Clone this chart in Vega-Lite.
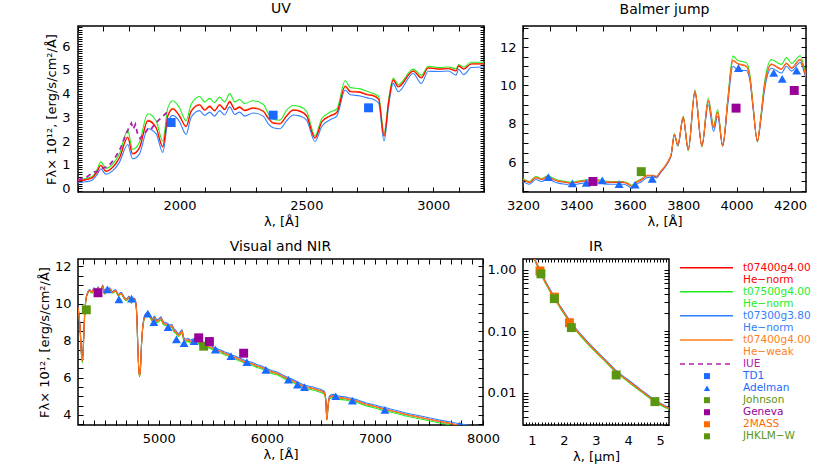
{
"$schema": "https://vega.github.io/schema/vega-lite/v6.json",
"padding": {"left": 37, "top": 1, "right": 0, "bottom": 0},
"config": {
 "font": "DejaVu Sans",
 "view": {"stroke": "#000", "strokeWidth": 1.5},
 "axis": {"domain": false, "grid": false, "tickColor": "#000000", "tickSize": 5, "offset": -5, "tickWidth": 1, "labelFont": "DejaVu Sans", "labelFontSize": 13, "labelColor": "#000", "labelPadding": 7, "labelFlush": false, "labelOverlap": false, "titleFont": "DejaVu Sans", "titleFontSize": 13, "titleFontWeight": "normal", "titleColor": "#000", "titlePadding": 3},
 "title": {"font": "DejaVu Sans", "fontSize": 14, "fontWeight": "normal", "color": "#000", "offset": 5},
 "line": {"strokeWidth": 1.1, "interpolate": "monotone"}
},
"datasets": {
 "uv": [
  {"w":1600,"r":0.31,"g":0.36,"b":0.25,"o":0.33},{"w":1630,"r":0.36,"g":0.42,"b":0.28,"o":0.38},{"w":1657,"r":0.45,"g":0.52,"b":0.36,"o":0.47},{"w":1675,"r":0.70,"g":0.80,"b":0.58,"o":0.72},{"w":1690,"r":0.97,"g":1.12,"b":0.82,"o":0.99},{"w":1710,"r":0.72,"g":0.85,"b":0.60,"o":0.74},{"w":1736,"r":0.88,"g":1.02,"b":0.74,"o":0.90},{"w":1763,"r":1.27,"g":1.45,"b":1.10,"o":1.30},{"w":1796,"r":2.15,"g":2.45,"b":1.85,"o":2.18},{"w":1815,"r":1.45,"g":1.65,"b":1.25,"o":1.48},{"w":1842,"r":1.70,"g":1.95,"b":1.45,"o":1.73},{"w":1875,"r":2.85,"g":3.15,"b":2.52,"o":2.88},{"w":1908,"r":2.55,"g":2.85,"b":2.30,"o":2.58},{"w":1934,"r":1.75,"g":2.00,"b":1.52,"o":1.78},{"w":1954,"r":3.05,"g":3.40,"b":2.80,"o":3.08},{"w":1974,"r":3.35,"g":3.70,"b":3.08,"o":3.38},{"w":2000,"r":3.05,"g":3.40,"b":2.82,"o":3.08},{"w":2026,"r":2.60,"g":2.85,"b":2.28,"o":2.63},{"w":2046,"r":3.25,"g":3.55,"b":3.00,"o":3.28},{"w":2079,"r":3.52,"g":3.88,"b":3.28,"o":3.55},{"w":2099,"r":3.30,"g":3.65,"b":3.08,"o":3.33},{"w":2119,"r":3.45,"g":3.80,"b":3.22,"o":3.48},{"w":2138,"r":3.27,"g":3.62,"b":3.05,"o":3.30},{"w":2158,"r":3.52,"g":3.85,"b":3.28,"o":3.55},{"w":2178,"r":3.32,"g":3.65,"b":3.10,"o":3.35},{"w":2198,"r":3.65,"g":4.00,"b":3.44,"o":3.68},{"w":2218,"r":3.32,"g":3.65,"b":3.12,"o":3.35},{"w":2237,"r":3.42,"g":3.75,"b":3.22,"o":3.45},{"w":2257,"r":3.28,"g":3.58,"b":3.05,"o":3.31},{"w":2290,"r":3.38,"g":3.70,"b":3.18,"o":3.41},{"w":2330,"r":3.25,"g":3.55,"b":3.05,"o":3.28},{"w":2350,"r":2.95,"g":3.15,"b":2.72,"o":2.98},{"w":2369,"r":2.75,"g":2.92,"b":2.56,"o":2.78},{"w":2396,"r":2.72,"g":2.88,"b":2.52,"o":2.75},{"w":2422,"r":3.05,"g":3.30,"b":2.85,"o":3.08},{"w":2448,"r":3.30,"g":3.50,"b":3.10,"o":3.33},{"w":2475,"r":3.25,"g":3.45,"b":3.05,"o":3.28},{"w":2501,"r":3.05,"g":3.25,"b":2.88,"o":3.08},{"w":2534,"r":2.12,"g":2.22,"b":1.98,"o":2.15},{"w":2561,"r":2.80,"g":2.95,"b":2.62,"o":2.83},{"w":2594,"r":3.05,"g":3.22,"b":2.90,"o":3.08},{"w":2620,"r":3.20,"g":3.35,"b":3.05,"o":3.23},{"w":2653,"r":4.30,"g":4.55,"b":4.15,"o":4.33},{"w":2673,"r":4.08,"g":4.25,"b":3.95,"o":4.11},{"w":2712,"r":4.05,"g":4.20,"b":3.90,"o":4.08},{"w":2739,"r":3.95,"g":4.10,"b":3.82,"o":3.98},{"w":2765,"r":3.90,"g":4.00,"b":3.75,"o":3.93},{"w":2785,"r":3.75,"g":3.88,"b":3.60,"o":3.78},{"w":2806,"r":2.20,"g":2.35,"b":2.00,"o":2.23},{"w":2825,"r":3.70,"g":3.82,"b":3.55,"o":3.73},{"w":2842,"r":4.57,"g":4.66,"b":4.43,"o":4.60},{"w":2862,"r":4.28,"g":4.38,"b":4.08,"o":4.31},{"w":2921,"r":4.94,"g":5.03,"b":4.85,"o":4.97},{"w":2953,"r":4.66,"g":4.78,"b":4.43,"o":4.69},{"w":2980,"r":5.08,"g":5.15,"b":4.94,"o":5.10},{"w":3020,"r":5.03,"g":5.10,"b":4.93,"o":5.05},{"w":3060,"r":5.05,"g":5.12,"b":4.95,"o":5.07},{"w":3090,"r":4.95,"g":5.05,"b":4.78,"o":4.97},{"w":3100,"r":5.17,"g":5.22,"b":5.02,"o":5.18},{"w":3120,"r":5.03,"g":5.12,"b":4.80,"o":5.05},{"w":3150,"r":5.25,"g":5.32,"b":5.10,"o":5.26},{"w":3200,"r":5.25,"g":5.32,"b":5.12,"o":5.26}
 ],
 "iue": [
  {"w":1600,"f":0.35},{"w":1615,"f":0.42},{"w":1630,"f":0.45},{"w":1650,"f":0.6},{"w":1665,"f":0.7},{"w":1680,"f":0.72},{"w":1695,"f":0.85},{"w":1710,"f":0.9},{"w":1725,"f":1.0},{"w":1740,"f":1.2},{"w":1755,"f":1.45},{"w":1770,"f":1.75},{"w":1780,"f":2.05},{"w":1790,"f":2.3},{"w":1800,"f":2.55},{"w":1810,"f":2.75},{"w":1818,"f":2.5},{"w":1826,"f":2.7},{"w":1835,"f":2.3},{"w":1845,"f":2.1},{"w":1855,"f":2.25},{"w":1865,"f":2.35},{"w":1875,"f":2.5},{"w":1885,"f":2.45},{"w":1895,"f":2.6},{"w":1905,"f":2.75},{"w":1915,"f":2.85},{"w":1925,"f":2.95},{"w":1935,"f":3.05},{"w":1945,"f":3.15},{"w":1958,"f":3.3}
 ],
 "uvpts": [
  {"w":1967,"f":2.78,"src":"TD1"},{"w":2369,"f":3.09,"src":"TD1"},{"w":2745,"f":3.4,"src":"TD1"}
 ],
 "bal": [
  {"w":3200,"r":5.10,"g":5.15,"b":5.00,"o":5.12},{"w":3223,"r":4.95,"g":5.00,"b":4.85,"o":4.97},{"w":3248,"r":5.20,"g":5.25,"b":5.10,"o":5.22},{"w":3270,"r":5.10,"g":5.15,"b":5.00,"o":5.12},{"w":3292,"r":5.25,"g":5.30,"b":5.15,"o":5.27},{"w":3315,"r":5.10,"g":5.15,"b":5.00,"o":5.12},{"w":3336,"r":5.00,"g":5.05,"b":4.90,"o":5.02},{"w":3361,"r":4.95,"g":5.00,"b":4.85,"o":4.97},{"w":3380,"r":4.90,"g":4.95,"b":4.80,"o":4.92},{"w":3399,"r":4.95,"g":5.00,"b":4.85,"o":4.97},{"w":3420,"r":5.00,"g":5.05,"b":4.90,"o":5.02},{"w":3455,"r":5.05,"g":5.10,"b":4.95,"o":5.07},{"w":3475,"r":5.05,"g":5.10,"b":4.95,"o":5.07},{"w":3495,"r":5.00,"g":5.05,"b":4.90,"o":5.02},{"w":3532,"r":4.95,"g":5.00,"b":4.85,"o":4.97},{"w":3576,"r":4.95,"g":5.00,"b":4.85,"o":4.97},{"w":3595,"r":4.85,"g":4.90,"b":4.75,"o":4.87},{"w":3607,"r":4.75,"g":4.80,"b":4.65,"o":4.77},{"w":3626,"r":4.95,"g":5.00,"b":4.85,"o":4.97},{"w":3645,"r":5.10,"g":5.15,"b":5.00,"o":5.12},{"w":3664,"r":5.30,"g":5.30,"b":5.20,"o":5.32},{"w":3689,"r":5.30,"g":5.30,"b":5.22,"o":5.32},{"w":3700,"r":5.25,"g":5.25,"b":5.18,"o":5.27},{"w":3715,"r":5.50,"g":5.50,"b":5.45,"o":5.52},{"w":3730,"r":5.75,"g":5.75,"b":5.70,"o":5.77},{"w":3746,"r":6.10,"g":6.10,"b":6.05,"o":6.12},{"w":3755,"r":6.40,"g":6.40,"b":6.35,"o":6.42},{"w":3767,"r":7.45,"g":7.50,"b":7.40,"o":7.46},{"w":3780,"r":6.90,"g":6.85,"b":6.85,"o":6.90},{"w":3800,"r":8.35,"g":8.40,"b":8.28,"o":8.36},{"w":3819,"r":6.65,"g":6.60,"b":6.65,"o":6.65},{"w":3844,"r":9.70,"g":9.78,"b":9.60,"o":9.72},{"w":3870,"r":6.85,"g":6.80,"b":6.85,"o":6.85},{"w":3894,"r":9.20,"g":9.35,"b":9.00,"o":9.22},{"w":3914,"r":7.80,"g":7.90,"b":7.60,"o":7.82},{"w":3929,"r":8.60,"g":8.75,"b":8.40,"o":8.62},{"w":3948,"r":6.85,"g":6.85,"b":6.85,"o":6.85},{"w":3967,"r":9.20,"g":9.30,"b":9.00,"o":9.22},{"w":3986,"r":11.30,"g":11.53,"b":11.00,"o":11.32},{"w":4005,"r":11.13,"g":11.30,"b":10.80,"o":11.15},{"w":4036,"r":11.00,"g":11.20,"b":10.78,"o":11.02},{"w":4050,"r":10.40,"g":10.55,"b":10.25,"o":10.42},{"w":4061,"r":9.00,"g":9.10,"b":8.90,"o":9.02},{"w":4078,"r":7.10,"g":7.05,"b":7.10,"o":7.10},{"w":4090,"r":8.20,"g":8.30,"b":8.10,"o":8.22},{"w":4105,"r":10.00,"g":10.20,"b":9.80,"o":10.02},{"w":4131,"r":11.10,"g":11.35,"b":10.90,"o":11.12},{"w":4168,"r":10.85,"g":11.10,"b":10.65,"o":10.87},{"w":4187,"r":11.15,"g":11.45,"b":11.00,"o":11.17},{"w":4206,"r":10.90,"g":11.15,"b":10.75,"o":10.92},{"w":4238,"r":11.35,"g":11.55,"b":11.20,"o":11.37},{"w":4255,"r":10.70,"g":10.85,"b":10.60,"o":10.72},{"w":4270,"r":9.90,"g":9.95,"b":9.85,"o":9.92}
 ],
 "balpts": [
  {"w":3295,"f":5.22,"src":"Adelman"},{"w":3385,"f":4.9,"src":"Adelman"},{"w":3437,"f":4.92,"src":"Adelman"},{"w":3497,"f":5.06,"src":"Adelman"},{"w":3560,"f":4.86,"src":"Adelman"},{"w":3620,"f":4.84,"src":"Adelman"},{"w":3684,"f":5.13,"src":"Adelman"},{"w":4007,"f":10.9,"src":"Adelman"},{"w":4139,"f":10.66,"src":"Adelman"},{"w":4171,"f":10.35,"src":"Adelman"},{"w":4225,"f":10.78,"src":"Adelman"},
  {"w":3462,"f":5.0,"src":"Geneva"},{"w":3998,"f":8.82,"src":"Geneva"},{"w":4216,"f":9.74,"src":"Geneva"},
  {"w":3643,"f":5.51,"src":"Johnson"}
 ],
 "vis": [
  {"w":4252,"r":9.80,"g":9.75,"b":9.85,"o":9.80},{"w":4270,"r":8.80,"g":8.75,"b":8.85,"o":8.80},{"w":4285,"r":7.20,"g":7.10,"b":7.30,"o":7.20},{"w":4293,"r":6.90,"g":6.80,"b":7.00,"o":6.90},{"w":4300,"r":7.50,"g":7.40,"b":7.60,"o":7.50},{"w":4312,"r":9.20,"g":9.15,"b":9.25,"o":9.20},{"w":4325,"r":10.20,"g":10.15,"b":10.25,"o":10.20},{"w":4340,"r":10.55,"g":10.50,"b":10.60,"o":10.55},{"w":4360,"r":10.70,"g":10.65,"b":10.75,"o":10.70},{"w":4380,"r":10.60,"g":10.55,"b":10.65,"o":10.60},{"w":4400,"r":10.80,"g":10.75,"b":10.85,"o":10.80},{"w":4420,"r":10.70,"g":10.65,"b":10.75,"o":10.70},{"w":4440,"r":10.85,"g":10.80,"b":10.90,"o":10.85},{"w":4460,"r":10.60,"g":10.55,"b":10.65,"o":10.60},{"w":4480,"r":10.95,"g":10.90,"b":11.00,"o":10.95},{"w":4500,"r":10.55,"g":10.50,"b":10.60,"o":10.55},{"w":4520,"r":10.70,"g":10.65,"b":10.75,"o":10.70},{"w":4545,"r":10.80,"g":10.75,"b":10.85,"o":10.80},{"w":4570,"r":10.60,"g":10.55,"b":10.65,"o":10.60},{"w":4600,"r":10.70,"g":10.65,"b":10.75,"o":10.70},{"w":4625,"r":10.45,"g":10.40,"b":10.50,"o":10.45},{"w":4650,"r":10.55,"g":10.50,"b":10.60,"o":10.55},{"w":4680,"r":10.30,"g":10.25,"b":10.35,"o":10.30},{"w":4700,"r":10.20,"g":10.15,"b":10.25,"o":10.20},{"w":4725,"r":10.35,"g":10.30,"b":10.40,"o":10.35},{"w":4745,"r":10.05,"g":10.00,"b":10.10,"o":10.05},{"w":4760,"r":10.25,"g":10.20,"b":10.30,"o":10.25},{"w":4780,"r":10.20,"g":10.15,"b":10.25,"o":10.20},{"w":4795,"r":9.50,"g":9.45,"b":9.55,"o":9.50},{"w":4805,"r":7.80,"g":7.75,"b":7.85,"o":7.80},{"w":4815,"r":6.40,"g":6.35,"b":6.45,"o":6.40},{"w":4822,"r":6.10,"g":6.05,"b":6.15,"o":6.10},{"w":4830,"r":6.50,"g":6.45,"b":6.55,"o":6.50},{"w":4840,"r":7.80,"g":7.75,"b":7.85,"o":7.80},{"w":4855,"r":8.90,"g":8.85,"b":8.95,"o":8.90},{"w":4875,"r":9.35,"g":9.28,"b":9.43,"o":9.35},{"w":4900,"r":9.45,"g":9.38,"b":9.53,"o":9.45},{"w":4920,"r":9.30,"g":9.22,"b":9.38,"o":9.30},{"w":4940,"r":9.10,"g":9.02,"b":9.18,"o":9.10},{"w":4960,"r":9.25,"g":9.17,"b":9.33,"o":9.25},{"w":4980,"r":9.05,"g":8.97,"b":9.13,"o":9.05},{"w":5000,"r":9.10,"g":9.02,"b":9.18,"o":9.10},{"w":5020,"r":9.20,"g":9.12,"b":9.28,"o":9.20},{"w":5040,"r":8.95,"g":8.87,"b":9.03,"o":8.95},{"w":5060,"r":8.90,"g":8.82,"b":8.98,"o":8.90},{"w":5080,"r":8.85,"g":8.77,"b":8.93,"o":8.85},{"w":5100,"r":8.75,"g":8.67,"b":8.83,"o":8.75},{"w":5120,"r":8.80,"g":8.72,"b":8.88,"o":8.80},{"w":5140,"r":8.55,"g":8.47,"b":8.63,"o":8.55},{"w":5160,"r":8.45,"g":8.37,"b":8.53,"o":8.45},{"w":5180,"r":8.30,"g":8.22,"b":8.38,"o":8.30},{"w":5200,"r":8.40,"g":8.32,"b":8.48,"o":8.40},{"w":5215,"r":8.50,"g":8.42,"b":8.58,"o":8.50},{"w":5230,"r":8.10,"g":8.02,"b":8.18,"o":8.10},{"w":5250,"r":8.00,"g":7.92,"b":8.08,"o":8.00},{"w":5270,"r":8.05,"g":7.97,"b":8.13,"o":8.05},{"w":5290,"r":7.95,"g":7.87,"b":8.03,"o":7.95},{"w":5310,"r":8.00,"g":7.92,"b":8.08,"o":8.00},{"w":5330,"r":7.95,"g":7.87,"b":8.03,"o":7.95},{"w":5350,"r":8.05,"g":7.97,"b":8.13,"o":8.05},{"w":5370,"r":7.90,"g":7.82,"b":7.98,"o":7.90},{"w":5400,"r":7.85,"g":7.77,"b":7.93,"o":7.85},{"w":5430,"r":7.80,"g":7.72,"b":7.88,"o":7.80},{"w":5460,"r":7.70,"g":7.62,"b":7.78,"o":7.70},{"w":5490,"r":7.62,"g":7.54,"b":7.70,"o":7.62},{"w":5520,"r":7.55,"g":7.47,"b":7.63,"o":7.55},{"w":5550,"r":7.45,"g":7.37,"b":7.53,"o":7.45},{"w":5580,"r":7.40,"g":7.32,"b":7.48,"o":7.40},{"w":5610,"r":7.30,"g":7.22,"b":7.38,"o":7.30},{"w":5640,"r":7.25,"g":7.17,"b":7.33,"o":7.25},{"w":5670,"r":7.15,"g":7.07,"b":7.23,"o":7.15},{"w":5700,"r":7.10,"g":7.02,"b":7.18,"o":7.10},{"w":5740,"r":7.00,"g":6.92,"b":7.08,"o":7.00},{"w":5780,"r":6.90,"g":6.82,"b":6.98,"o":6.90},{"w":5820,"r":6.80,"g":6.72,"b":6.88,"o":6.80},{"w":5860,"r":6.75,"g":6.67,"b":6.83,"o":6.75},{"w":5900,"r":6.65,"g":6.57,"b":6.73,"o":6.65},{"w":5950,"r":6.55,"g":6.47,"b":6.63,"o":6.55},{"w":6000,"r":6.42,"g":6.34,"b":6.50,"o":6.42},{"w":6050,"r":6.30,"g":6.22,"b":6.38,"o":6.30},{"w":6100,"r":6.22,"g":6.14,"b":6.30,"o":6.22},{"w":6150,"r":6.05,"g":5.97,"b":6.13,"o":6.05},{"w":6200,"r":5.92,"g":5.84,"b":6.00,"o":5.92},{"w":6250,"r":5.80,"g":5.72,"b":5.88,"o":5.80},{"w":6300,"r":5.65,"g":5.57,"b":5.73,"o":5.65},{"w":6350,"r":5.52,"g":5.44,"b":5.60,"o":5.52},{"w":6400,"r":5.45,"g":5.37,"b":5.53,"o":5.45},{"w":6450,"r":5.38,"g":5.30,"b":5.46,"o":5.38},{"w":6500,"r":5.28,"g":5.20,"b":5.36,"o":5.28},{"w":6530,"r":5.20,"g":5.12,"b":5.28,"o":5.20},{"w":6545,"r":4.80,"g":4.72,"b":4.88,"o":4.80},{"w":6555,"r":3.75,"g":3.70,"b":3.80,"o":3.75},{"w":6565,"r":4.40,"g":4.32,"b":4.48,"o":4.40},{"w":6580,"r":4.95,"g":4.87,"b":5.03,"o":4.95},{"w":6620,"r":5.02,"g":4.94,"b":5.10,"o":5.02},{"w":6650,"r":4.95,"g":4.87,"b":5.03,"o":4.95},{"w":6700,"r":4.90,"g":4.82,"b":4.98,"o":4.90},{"w":6750,"r":4.85,"g":4.77,"b":4.93,"o":4.85},{"w":6800,"r":4.78,"g":4.70,"b":4.86,"o":4.78},{"w":6850,"r":4.70,"g":4.62,"b":4.78,"o":4.70},{"w":6900,"r":4.60,"g":4.52,"b":4.68,"o":4.60},{"w":6950,"r":4.52,"g":4.44,"b":4.60,"o":4.52},{"w":7000,"r":4.45,"g":4.37,"b":4.53,"o":4.45},{"w":7050,"r":4.36,"g":4.28,"b":4.44,"o":4.36},{"w":7100,"r":4.30,"g":4.22,"b":4.38,"o":4.30},{"w":7150,"r":4.22,"g":4.14,"b":4.30,"o":4.22},{"w":7200,"r":4.15,"g":4.07,"b":4.23,"o":4.15},{"w":7300,"r":4.00,"g":3.92,"b":4.08,"o":4.00},{"w":7400,"r":3.88,"g":3.80,"b":3.96,"o":3.88},{"w":7500,"r":3.76,"g":3.68,"b":3.84,"o":3.76},{"w":7600,"r":3.64,"g":3.56,"b":3.72,"o":3.64},{"w":7700,"r":3.53,"g":3.45,"b":3.61,"o":3.53},{"w":7800,"r":3.42,"g":3.34,"b":3.50,"o":3.42},{"w":7900,"r":3.32,"g":3.24,"b":3.40,"o":3.32},{"w":8000,"r":3.22,"g":3.14,"b":3.30,"o":3.22}
 ],
 "vispts": [
  {"w":4523,"f":10.76,"src":"Adelman"},{"w":4631,"f":10.22,"src":"Adelman"},{"w":4748,"f":10.26,"src":"Adelman"},{"w":4898,"f":9.45,"src":"Adelman"},{"w":4954,"f":9.0,"src":"Adelman"},{"w":5086,"f":8.73,"src":"Adelman"},{"w":5163,"f":8.06,"src":"Adelman"},{"w":5234,"f":7.86,"src":"Adelman"},{"w":5326,"f":7.97,"src":"Adelman"},{"w":5523,"f":7.52,"src":"Adelman"},{"w":5668,"f":7.16,"src":"Adelman"},{"w":5815,"f":6.84,"src":"Adelman"},{"w":5991,"f":6.42,"src":"Adelman"},{"w":6200,"f":5.9,"src":"Adelman"},{"w":6283,"f":5.63,"src":"Adelman"},{"w":6348,"f":5.49,"src":"Adelman"},{"w":6637,"f":5.0,"src":"Adelman"},{"w":6791,"f":4.77,"src":"Adelman"},{"w":7092,"f":4.27,"src":"Adelman"},{"w":7785,"f":3.42,"src":"Adelman"},
  {"w":4329,"f":9.66,"src":"Johnson"},{"w":5415,"f":7.7,"src":"Johnson"},
  {"w":4437,"f":10.58,"src":"Geneva"},{"w":5369,"f":8.15,"src":"Geneva"},{"w":5468,"f":7.95,"src":"Geneva"},{"w":5785,"f":7.32,"src":"Geneva"}
 ],
 "ir": [
  {"w":1.0,"r":2.00,"g":1.92,"b":2.08,"o":2.00},{"w":1.1,"r":1.42,"g":1.36,"b":1.48,"o":1.42},{"w":1.2,"r":1.10,"g":1.05,"b":1.14,"o":1.10},{"w":1.3,"r":0.84,"g":0.81,"b":0.87,"o":0.84},{"w":1.4,"r":0.66,"g":0.63,"b":0.69,"o":0.66},{"w":1.5,"r":0.53,"g":0.51,"b":0.55,"o":0.53},{"w":1.6,"r":0.43,"g":0.41,"b":0.45,"o":0.43},{"w":1.7,"r":0.355,"g":0.34,"b":0.37,"o":0.355},{"w":1.8,"r":0.29,"g":0.28,"b":0.30,"o":0.29},{"w":1.9,"r":0.24,"g":0.23,"b":0.25,"o":0.24},{"w":2.0,"r":0.20,"g":0.192,"b":0.208,"o":0.20},{"w":2.2,"r":0.14,"g":0.134,"b":0.146,"o":0.14},{"w":2.4,"r":0.103,"g":0.099,"b":0.107,"o":0.103},{"w":2.6,"r":0.078,"g":0.075,"b":0.081,"o":0.078},{"w":2.8,"r":0.060,"g":0.0576,"b":0.0624,"o":0.060},{"w":3.0,"r":0.047,"g":0.045,"b":0.049,"o":0.047},{"w":3.3,"r":0.033,"g":0.0317,"b":0.0343,"o":0.033},{"w":3.6,"r":0.023,"g":0.0221,"b":0.0239,"o":0.023},{"w":4.0,"r":0.0157,"g":0.0151,"b":0.0163,"o":0.0157},{"w":4.4,"r":0.0109,"g":0.0105,"b":0.0113,"o":0.0109},{"w":4.8,"r":0.0076,"g":0.0073,"b":0.0079,"o":0.0076},{"w":5.3,"r":0.0055,"g":0.0053,"b":0.0057,"o":0.0055}
 ],
 "irpts": [
  {"w":1.25,"f":0.96,"src":"2MASS"},{"w":1.70,"f":0.36,"src":"2MASS"},{"w":2.17,"f":0.138,"src":"2MASS"},
  {"w":1.28,"f":0.86,"src":"JHKLM"},{"w":1.70,"f":0.34,"src":"JHKLM"},{"w":2.23,"f":0.115,"src":"JHKLM"},{"w":3.63,"f":0.0195,"src":"JHKLM"},{"w":4.84,"f":0.0072,"src":"JHKLM"}
 ],
 "leg": [
  {"row":0,"label":"t07400g4.00","src":"m1","kind":"line"},{"row":1,"label":"He−norm","src":"m1","kind":"none"},
  {"row":2,"label":"t07500g4.00","src":"m2","kind":"line"},{"row":3,"label":"He−norm","src":"m2","kind":"none"},
  {"row":4,"label":"t07300g3.80","src":"m3","kind":"line"},{"row":5,"label":"He−norm","src":"m3","kind":"none"},
  {"row":6,"label":"t07400g4.00","src":"m4","kind":"line"},{"row":7,"label":"He−weak","src":"m4","kind":"none"},
  {"row":8,"label":"IUE","src":"IUE","kind":"dash"},
  {"row":9,"label":"TD1","src":"TD1","kind":"square"},
  {"row":10,"label":"Adelman","src":"Adelman","kind":"triangle"},
  {"row":11,"label":"Johnson","src":"Johnson","kind":"square"},
  {"row":12,"label":"Geneva","src":"Geneva","kind":"square"},
  {"row":13,"label":"2MASS","src":"2MASS","kind":"square"},
  {"row":14,"label":"JHKLM−W","src":"JHKLM","kind":"square"}
 ]
},
"columns": 2,
"bounds": "flush",
"spacing": {"row": 67, "column": 39},
"resolve": {"scale": {"color": "independent", "shape": "independent"}},
"concat": [
  {"title": "UV", "width": 406, "height": 166,
   "layer": [
    {"data": {"name": "uv"}, "mark": {"type": "line", "color": "#22ee22", "clip": true},
     "encoding": {
      "x": {"field": "w", "type": "quantitative", "scale": {"domain": [1600, 3200], "nice": false, "zero": false}, "axis": {"values": [1600,1700,1800,1900,2000,2100,2200,2300,2400,2500,2600,2700,2800,2900,3000,3100,3200], "labelExpr": "indexof([2000,2500,3000], datum.value) >= 0 ? datum.value : ''", "title": "λ, [Å]"}},
      "y": {"field": "g", "type": "quantitative", "scale": {"domain": [-0.15, 6.85], "nice": false, "zero": false}, "axis": {"values": [-0.1,0,0.1,0.2,0.3,0.4,0.5,0.6,0.7,0.8,0.9,1,1.1,1.2,1.3,1.4,1.5,1.6,1.7,1.8,1.9,2,2.1,2.2,2.3,2.4,2.5,2.6,2.7,2.8,2.9,3,3.1,3.2,3.3,3.4,3.5,3.6,3.7,3.8,3.9,4,4.1,4.2,4.3,4.4,4.5,4.6,4.7,4.8,4.9,5,5.1,5.2,5.3,5.4,5.5,5.6,5.7,5.8,5.9,6,6.1,6.2,6.3,6.4,6.5,6.6,6.7,6.8], "tickSize": 4, "offset": -4, "labelPadding": 8, "labelExpr": "indexof([0,1,2,3,4,5,6], datum.value) >= 0 ? datum.value : ''", "title": "Fλ× 10¹², [erg/s/cm²/Å]"}}}},
    {"data": {"name": "uv"}, "mark": {"type": "line", "color": "#2f7fff", "clip": true},
     "encoding": {
      "x": {"field": "w", "type": "quantitative", "scale": {"domain": [1600, 3200], "nice": false, "zero": false}, "axis": {"orient": "top", "values": [1600,1700,1800,1900,2000,2100,2200,2300,2400,2500,2600,2700,2800,2900,3000,3100,3200], "labels": false, "title": null}},
      "y": {"field": "b", "type": "quantitative", "scale": {"domain": [-0.15, 6.85], "nice": false, "zero": false}, "axis": {"orient": "right", "values": [-0.1,0,0.1,0.2,0.3,0.4,0.5,0.6,0.7,0.8,0.9,1,1.1,1.2,1.3,1.4,1.5,1.6,1.7,1.8,1.9,2,2.1,2.2,2.3,2.4,2.5,2.6,2.7,2.8,2.9,3,3.1,3.2,3.3,3.4,3.5,3.6,3.7,3.8,3.9,4,4.1,4.2,4.3,4.4,4.5,4.6,4.7,4.8,4.9,5,5.1,5.2,5.3,5.4,5.5,5.6,5.7,5.8,5.9,6,6.1,6.2,6.3,6.4,6.5,6.6,6.7,6.8], "tickSize": 4, "offset": -4, "labels": false, "title": null}}}},
    {"data": {"name": "uv"}, "mark": {"type": "line", "color": "#ff7f1e", "clip": true},
     "encoding": {
      "x": {"field": "w", "type": "quantitative", "scale": {"domain": [1600, 3200], "nice": false, "zero": false}, "axis": null},
      "y": {"field": "o", "type": "quantitative", "scale": {"domain": [-0.15, 6.85], "nice": false, "zero": false}, "axis": null}}},
    {"data": {"name": "uv"}, "mark": {"type": "line", "color": "#ff0000", "clip": true},
     "encoding": {
      "x": {"field": "w", "type": "quantitative", "scale": {"domain": [1600, 3200], "nice": false, "zero": false}, "axis": null},
      "y": {"field": "r", "type": "quantitative", "scale": {"domain": [-0.15, 6.85], "nice": false, "zero": false}, "axis": null}}},
    {"data": {"name": "iue"}, "mark": {"type": "line", "color": "#b020b0", "strokeDash": [5, 4], "strokeWidth": 1.8, "interpolate": "linear", "clip": true},
     "encoding": {
      "x": {"field": "w", "type": "quantitative", "scale": {"domain": [1600, 3200], "nice": false, "zero": false}, "axis": null},
      "y": {"field": "f", "type": "quantitative", "scale": {"domain": [-0.15, 6.85], "nice": false, "zero": false}, "axis": null}}},
    {"data": {"name": "uvpts"}, "mark": {"type": "point", "shape": "square", "filled": true, "opacity": 1, "size": 80, "color": "#1a6aff", "clip": true},
     "encoding": {
      "x": {"field": "w", "type": "quantitative", "scale": {"domain": [1600, 3200], "nice": false, "zero": false}, "axis": null},
      "y": {"field": "f", "type": "quantitative", "scale": {"domain": [-0.15, 6.85], "nice": false, "zero": false}, "axis": null}}}
   ],
   "resolve": {"axis": {"x": "independent", "y": "independent"}}
  },
  {"title": "Balmer  jump", "width": 283, "height": 166,
   "layer": [
    {"data": {"name": "bal"}, "mark": {"type": "line", "color": "#22ee22", "clip": true},
     "encoding": {
      "x": {"field": "w", "type": "quantitative", "scale": {"domain": [3200, 4260], "nice": false, "zero": false}, "axis": {"values": [3200,3300,3400,3500,3600,3700,3800,3900,4000,4100,4200], "labelExpr": "indexof([3200,3400,3600,3800,4000,4200], datum.value) >= 0 ? datum.value : ''", "title": "λ, [Å]"}},
      "y": {"field": "g", "type": "quantitative", "scale": {"domain": [4.45, 13.1], "nice": false, "zero": false}, "axis": {"values": [4.5,5,5.5,6,6.5,7,7.5,8,8.5,9,9.5,10,10.5,11,11.5,12,12.5,13], "labelExpr": "indexof([6,8,10,12], datum.value) >= 0 ? datum.value : ''", "title": null}}}},
    {"data": {"name": "bal"}, "mark": {"type": "line", "color": "#2f7fff", "clip": true},
     "encoding": {
      "x": {"field": "w", "type": "quantitative", "scale": {"domain": [3200, 4260], "nice": false, "zero": false}, "axis": {"orient": "top", "values": [3200,3300,3400,3500,3600,3700,3800,3900,4000,4100,4200], "labels": false, "title": null}},
      "y": {"field": "b", "type": "quantitative", "scale": {"domain": [4.45, 13.1], "nice": false, "zero": false}, "axis": {"orient": "right", "values": [4.5,5,5.5,6,6.5,7,7.5,8,8.5,9,9.5,10,10.5,11,11.5,12,12.5,13], "labels": false, "title": null}}}},
    {"data": {"name": "bal"}, "mark": {"type": "line", "color": "#ff0000", "clip": true},
     "encoding": {
      "x": {"field": "w", "type": "quantitative", "scale": {"domain": [3200, 4260], "nice": false, "zero": false}, "axis": null},
      "y": {"field": "r", "type": "quantitative", "scale": {"domain": [4.45, 13.1], "nice": false, "zero": false}, "axis": null}}},
    {"data": {"name": "bal"}, "mark": {"type": "line", "color": "#ff7f1e", "clip": true},
     "encoding": {
      "x": {"field": "w", "type": "quantitative", "scale": {"domain": [3200, 4260], "nice": false, "zero": false}, "axis": null},
      "y": {"field": "o", "type": "quantitative", "scale": {"domain": [4.45, 13.1], "nice": false, "zero": false}, "axis": null}}},
    {"data": {"name": "balpts"}, "mark": {"type": "point", "filled": true, "opacity": 1, "size": 80, "clip": true},
     "encoding": {
      "x": {"field": "w", "type": "quantitative", "scale": {"domain": [3200, 4260], "nice": false, "zero": false}, "axis": null},
      "y": {"field": "f", "type": "quantitative", "scale": {"domain": [4.45, 13.1], "nice": false, "zero": false}, "axis": null},
      "color": {"field": "src", "type": "nominal", "scale": {"domain": ["m1", "m2", "m3", "m4", "IUE", "TD1", "Adelman", "Johnson", "Geneva", "2MASS", "JHKLM"], "range": ["#ff0000", "#22ee22", "#2f7fff", "#ff7f1e", "#b020b0", "#1a6aff", "#1a6aff", "#5a9610", "#990099", "#ff6a00", "#5a9610"]}, "legend": null},
      "shape": {"field": "src", "type": "nominal", "scale": {"domain": ["m1", "m2", "m3", "m4", "IUE", "TD1", "Adelman", "Johnson", "Geneva", "2MASS", "JHKLM"], "range": ["circle", "circle", "circle", "circle", "circle", "square", "triangle-up", "square", "square", "square", "square"]}, "legend": null}}}
   ],
   "resolve": {"axis": {"x": "independent", "y": "independent"}}
  },
  {"title": "Visual and NIR", "width": 405, "height": 166,
   "layer": [
    {"data": {"name": "vis"}, "mark": {"type": "line", "color": "#22ee22", "clip": true},
     "encoding": {
      "x": {"field": "w", "type": "quantitative", "scale": {"domain": [4252, 8000], "nice": false, "zero": false}, "axis": {"values": [4300,4400,4500,4600,4700,4800,4900,5000,5100,5200,5300,5400,5500,5600,5700,5800,5900,6000,6100,6200,6300,6400,6500,6600,6700,6800,6900,7000,7100,7200,7300,7400,7500,7600,7700,7800,7900,8000], "labelExpr": "indexof([5000,6000,7000,8000], datum.value) >= 0 ? datum.value : ''", "title": "λ, [Å]"}},
      "y": {"field": "g", "type": "quantitative", "scale": {"domain": [3.45, 12.4], "nice": false, "zero": false}, "axis": {"values": [3.5,4,4.5,5,5.5,6,6.5,7,7.5,8,8.5,9,9.5,10,10.5,11,11.5,12], "labelExpr": "indexof([4,6,8,10,12], datum.value) >= 0 ? datum.value : ''", "title": "Fλ× 10¹², [erg/s/cm²/Å]"}}}},
    {"data": {"name": "vis"}, "mark": {"type": "line", "color": "#2f7fff", "clip": true},
     "encoding": {
      "x": {"field": "w", "type": "quantitative", "scale": {"domain": [4252, 8000], "nice": false, "zero": false}, "axis": {"orient": "top", "values": [4300,4400,4500,4600,4700,4800,4900,5000,5100,5200,5300,5400,5500,5600,5700,5800,5900,6000,6100,6200,6300,6400,6500,6600,6700,6800,6900,7000,7100,7200,7300,7400,7500,7600,7700,7800,7900,8000], "labels": false, "title": null}},
      "y": {"field": "b", "type": "quantitative", "scale": {"domain": [3.45, 12.4], "nice": false, "zero": false}, "axis": {"orient": "right", "values": [3.5,4,4.5,5,5.5,6,6.5,7,7.5,8,8.5,9,9.5,10,10.5,11,11.5,12], "labels": false, "title": null}}}},
    {"data": {"name": "vis"}, "mark": {"type": "line", "color": "#ff0000", "clip": true},
     "encoding": {
      "x": {"field": "w", "type": "quantitative", "scale": {"domain": [4252, 8000], "nice": false, "zero": false}, "axis": null},
      "y": {"field": "r", "type": "quantitative", "scale": {"domain": [3.45, 12.4], "nice": false, "zero": false}, "axis": null}}},
    {"data": {"name": "vis"}, "mark": {"type": "line", "color": "#ff7f1e", "clip": true},
     "encoding": {
      "x": {"field": "w", "type": "quantitative", "scale": {"domain": [4252, 8000], "nice": false, "zero": false}, "axis": null},
      "y": {"field": "o", "type": "quantitative", "scale": {"domain": [3.45, 12.4], "nice": false, "zero": false}, "axis": null}}},
    {"data": {"name": "vispts"}, "mark": {"type": "point", "filled": true, "opacity": 1, "size": 80, "clip": true},
     "encoding": {
      "x": {"field": "w", "type": "quantitative", "scale": {"domain": [4252, 8000], "nice": false, "zero": false}, "axis": null},
      "y": {"field": "f", "type": "quantitative", "scale": {"domain": [3.45, 12.4], "nice": false, "zero": false}, "axis": null},
      "color": {"field": "src", "type": "nominal", "scale": {"domain": ["m1", "m2", "m3", "m4", "IUE", "TD1", "Adelman", "Johnson", "Geneva", "2MASS", "JHKLM"], "range": ["#ff0000", "#22ee22", "#2f7fff", "#ff7f1e", "#b020b0", "#1a6aff", "#1a6aff", "#5a9610", "#990099", "#ff6a00", "#5a9610"]}, "legend": null},
      "shape": {"field": "src", "type": "nominal", "scale": {"domain": ["m1", "m2", "m3", "m4", "IUE", "TD1", "Adelman", "Johnson", "Geneva", "2MASS", "JHKLM"], "range": ["circle", "circle", "circle", "circle", "circle", "square", "triangle-up", "square", "square", "square", "square"]}, "legend": null}}}
   ],
   "resolve": {"axis": {"x": "independent", "y": "independent"}}
  },
  {"title": "IR", "width": 146, "height": 166,
   "layer": [
    {"data": {"name": "ir"}, "mark": {"type": "line", "color": "#22ee22", "clip": true},
     "encoding": {
      "x": {"field": "w", "type": "quantitative", "scale": {"domain": [0.72, 5.28], "nice": false, "zero": false}, "axis": {"values": [0.8,0.9,1,1.1,1.2,1.3,1.4,1.5,1.6,1.7,1.8,1.9,2,2.1,2.2,2.3,2.4,2.5,2.6,2.7,2.8,2.9,3,3.1,3.2,3.3,3.4,3.5,3.6,3.7,3.8,3.9,4,4.1,4.2,4.3,4.4,4.5,4.6,4.7,4.8,4.9,5,5.1,5.2], "tickSize": 3, "offset": -3, "labelPadding": 9, "labelExpr": "indexof([1,2,3,4,5], datum.value) >= 0 ? datum.value : ''", "title": "λ, [μm]"}},
      "y": {"field": "g", "type": "quantitative", "scale": {"type": "log", "domain": [0.003, 1.5], "nice": false}, "axis": {"values": [0.003,0.004,0.005,0.006,0.007,0.008,0.009,0.01,0.02,0.03,0.04,0.05,0.06,0.07,0.08,0.09,0.1,0.2,0.3,0.4,0.5,0.6,0.7,0.8,0.9,1], "labelExpr": "indexof([0.01,0.1,1], datum.value) >= 0 ? format(datum.value, '.2f') : ''", "title": null}}}},
    {"data": {"name": "ir"}, "mark": {"type": "line", "color": "#2f7fff", "clip": true},
     "encoding": {
      "x": {"field": "w", "type": "quantitative", "scale": {"domain": [0.72, 5.28], "nice": false, "zero": false}, "axis": {"orient": "top", "values": [0.8,0.9,1,1.1,1.2,1.3,1.4,1.5,1.6,1.7,1.8,1.9,2,2.1,2.2,2.3,2.4,2.5,2.6,2.7,2.8,2.9,3,3.1,3.2,3.3,3.4,3.5,3.6,3.7,3.8,3.9,4,4.1,4.2,4.3,4.4,4.5,4.6,4.7,4.8,4.9,5,5.1,5.2], "tickSize": 3, "offset": -3, "labels": false, "title": null}},
      "y": {"field": "b", "type": "quantitative", "scale": {"type": "log", "domain": [0.003, 1.5], "nice": false}, "axis": {"orient": "right", "values": [0.003,0.004,0.005,0.006,0.007,0.008,0.009,0.01,0.02,0.03,0.04,0.05,0.06,0.07,0.08,0.09,0.1,0.2,0.3,0.4,0.5,0.6,0.7,0.8,0.9,1], "labels": false, "title": null}}}},
    {"data": {"name": "ir"}, "mark": {"type": "line", "color": "#ff0000", "clip": true},
     "encoding": {
      "x": {"field": "w", "type": "quantitative", "scale": {"domain": [0.72, 5.28], "nice": false, "zero": false}, "axis": null},
      "y": {"field": "r", "type": "quantitative", "scale": {"type": "log", "domain": [0.003, 1.5], "nice": false}, "axis": null}}},
    {"data": {"name": "ir"}, "mark": {"type": "line", "color": "#ff7f1e", "clip": true},
     "encoding": {
      "x": {"field": "w", "type": "quantitative", "scale": {"domain": [0.72, 5.28], "nice": false, "zero": false}, "axis": null},
      "y": {"field": "o", "type": "quantitative", "scale": {"type": "log", "domain": [0.003, 1.5], "nice": false}, "axis": null}}},
    {"data": {"name": "irpts"}, "mark": {"type": "point", "filled": true, "opacity": 1, "size": 80, "clip": true},
     "encoding": {
      "x": {"field": "w", "type": "quantitative", "scale": {"domain": [0.72, 5.28], "nice": false, "zero": false}, "axis": null},
      "y": {"field": "f", "type": "quantitative", "scale": {"type": "log", "domain": [0.003, 1.5], "nice": false}, "axis": null},
      "color": {"field": "src", "type": "nominal", "scale": {"domain": ["m1", "m2", "m3", "m4", "IUE", "TD1", "Adelman", "Johnson", "Geneva", "2MASS", "JHKLM"], "range": ["#ff0000", "#22ee22", "#2f7fff", "#ff7f1e", "#b020b0", "#1a6aff", "#1a6aff", "#5a9610", "#990099", "#ff6a00", "#5a9610"]}, "legend": null},
      "shape": {"field": "src", "type": "nominal", "scale": {"domain": ["m1", "m2", "m3", "m4", "IUE", "TD1", "Adelman", "Johnson", "Geneva", "2MASS", "JHKLM"], "range": ["circle", "circle", "circle", "circle", "circle", "square", "triangle-up", "square", "square", "square", "square"]}, "legend": null}}},
    {"data": {"name": "leg"},
     "layer": [
      {"mark": {"type": "text", "align": "left", "baseline": "middle", "fontSize": 10.5, "font": "DejaVu Sans"},
       "encoding": {
        "x": {"datum": 22.0, "type": "quantitative", "scale": {"domain": [0, 14.6], "nice": false, "zero": false}, "axis": null},
        "y": {"field": "row", "type": "quantitative", "scale": {"domain": [-0.72, 13.06], "reverse": true, "nice": false, "zero": false}, "axis": null},
        "text": {"field": "label"},
        "color": {"field": "src", "type": "nominal", "scale": {"domain": ["m1", "m2", "m3", "m4", "IUE", "TD1", "Adelman", "Johnson", "Geneva", "2MASS", "JHKLM"], "range": ["#ff0000", "#22ee22", "#2f7fff", "#ff7f1e", "#b020b0", "#1a6aff", "#1a6aff", "#5a9610", "#990099", "#ff6a00", "#5a9610"]}, "legend": null}}},
      {"transform": [{"filter": "datum.kind == 'line'"}], "mark": {"type": "rule", "strokeWidth": 1.5},
       "encoding": {
        "x": {"datum": 15.7, "type": "quantitative", "axis": null}, "x2": {"datum": 21.0},
        "y": {"field": "row", "type": "quantitative", "axis": null},
        "color": {"field": "src", "type": "nominal", "legend": null}}},
      {"transform": [{"filter": "datum.kind == 'dash'"}], "mark": {"type": "rule", "strokeWidth": 1.5, "strokeDash": [5, 4]},
       "encoding": {
        "x": {"datum": 15.7, "type": "quantitative", "axis": null}, "x2": {"datum": 21.0},
        "y": {"field": "row", "type": "quantitative", "axis": null},
        "color": {"field": "src", "type": "nominal", "legend": null}}},
      {"transform": [{"filter": "datum.kind == 'square'"}], "mark": {"type": "point", "shape": "square", "filled": true, "opacity": 1, "size": 36},
       "encoding": {
        "x": {"datum": 18.4, "type": "quantitative", "axis": null},
        "y": {"field": "row", "type": "quantitative", "axis": null},
        "color": {"field": "src", "type": "nominal", "legend": null}}},
      {"transform": [{"filter": "datum.kind == 'triangle'"}], "mark": {"type": "point", "shape": "triangle-up", "filled": true, "opacity": 1, "size": 40},
       "encoding": {
        "x": {"datum": 18.4, "type": "quantitative", "axis": null},
        "y": {"field": "row", "type": "quantitative", "axis": null},
        "color": {"field": "src", "type": "nominal", "legend": null}}}
     ]
    }
   ],
   "resolve": {"scale": {"x": "independent", "y": "independent"}, "axis": {"x": "independent", "y": "independent"}}
  }
]
}
